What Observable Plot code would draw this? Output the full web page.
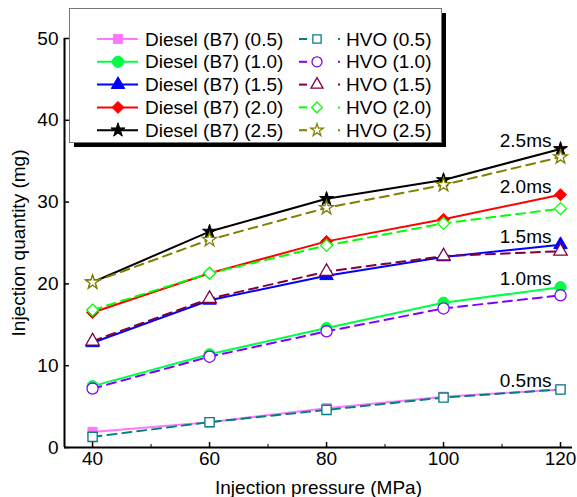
<!DOCTYPE html>
<html><head><meta charset="utf-8">
<script src="https://cdn.jsdelivr.net/npm/d3@7"></script>
<script src="https://cdn.jsdelivr.net/npm/@observablehq/plot@0.6"></script>
<style>
body{margin:0;background:#fff;font-family:"Liberation Sans",Arial,sans-serif;color:#000;}
#wrap{position:relative;width:577px;height:497px;}
#legend{position:absolute;left:69px;top:8px;}
</style></head><body><div id="wrap"></div>
<script>
// ---- data ----
const pressures = [40, 60, 80, 100, 120];
const minorTicks = [50, 70, 90, 110];
const yTicks = [0, 10, 20, 30, 40, 50];
const durations = ["0.5", "1.0", "1.5", "2.0", "2.5"];
const diesel05 = [1.9, 3.1, 4.8, 6.2, 7.1];
const diesel10 = [7.5, 11.4, 14.6, 17.7, 19.6];
const diesel15 = [12.8, 18.0, 21.0, 23.3, 24.8];
const diesel20 = [16.5, 21.3, 25.2, 27.9, 30.9];
const diesel25 = [20.2, 26.4, 30.4, 32.7, 36.5];
const hvo05 = [1.3, 3.1, 4.6, 6.1, 7.1];
const hvo10 = [7.2, 11.1, 14.2, 17.0, 18.6];
const hvo15 = [13.0, 18.2, 21.5, 23.4, 24.0];
const hvo20 = [16.8, 21.3, 24.7, 27.4, 29.2];
const hvo25 = [20.2, 25.4, 29.3, 32.1, 35.5];
const dieselColors = ["#FF77FF", "#00FF44", "#0000FF", "#FF0000", "#000000"];
const hvoColors = ["#008080", "#8000FF", "#800040", "#00FF00", "#808000"];
const symbols = ["square", "circle", "triangle", "diamond2", "star"];
const d3Symbols = [d3.symbolSquare, d3.symbolCircle, d3.symbolTriangle, d3.symbolDiamond2, d3.symbolStar];
const radii = [5.2, 5.6, 5.0, 5.4, 4.4];

const dieselValues = [diesel05, diesel10, diesel15, diesel20, diesel25];
const hvoValues = [hvo05, hvo10, hvo15, hvo20, hvo25];

function rows(fuel, valuesList, colors) {
  const out = [];
  valuesList.forEach((vals, i) => {
    vals.forEach((v, j) => out.push({fuel, dur: durations[i], idx: i, x: pressures[j], y: v, color: colors[i]}));
  });
  return out;
}
const dieselRows = rows("Diesel (B7)", dieselValues, dieselColors);
const hvoRows = rows("HVO", hvoValues, hvoColors);
const endLabels = durations.map((d, i) => ({
  x: pressures[pressures.length - 1],
  y: Math.max(dieselValues[i][4], hvoValues[i][4]),
  text: d + "ms"
}));

const marks = [];
marks.push(Plot.line(dieselRows, {x: "x", y: "y", z: "dur", stroke: "color", strokeWidth: 2}));
durations.forEach((d, i) => {
  marks.push(Plot.dot(dieselRows.filter(r => r.idx === i), {x: "x", y: "y", symbol: symbols[i], r: radii[i], fill: dieselColors[i], stroke: dieselColors[i], strokeWidth: 1}));
});
marks.push(Plot.line(hvoRows, {x: "x", y: "y", z: "dur", stroke: "color", strokeWidth: 2, strokeDasharray: "9,6"}));
durations.forEach((d, i) => {
  marks.push(Plot.dot(hvoRows.filter(r => r.idx === i), {x: "x", y: "y", symbol: symbols[i], r: radii[i], fill: "white", stroke: hvoColors[i], strokeWidth: 1.3}));
});
marks.push(Plot.text(endLabels, {x: "x", y: "y", text: "text", textAnchor: "end", lineAnchor: "bottom", dx: -9, dy: -2, fontSize: 19, fill: "black"}));
marks.push(Plot.ruleY([0], {stroke: "black", strokeWidth: 2}));
marks.push(Plot.ruleX([35.2], {stroke: "black", strokeWidth: 2}));
marks.push(Plot.axisX({ticks: pressures, tickSize: -5, tickPadding: 9, strokeWidth: 1.5, fontSize: 19,
  label: "Injection pressure (MPa)", labelAnchor: "center", labelOffset: 46, labelArrow: "none"}));
marks.push(Plot.axisX({ticks: minorTicks, tickSize: -3, tickFormat: () => "", label: null, strokeWidth: 1}));
marks.push(Plot.axisY({ticks: yTicks, tickSize: -5, tickPadding: 11, strokeWidth: 1.5, fontSize: 19,
  label: "Injection quantity (mg)", labelAnchor: "center", labelOffset: 53, labelArrow: "none"}));

const chart = Plot.plot({
  width: 577, height: 497,
  marginLeft: 64, marginRight: 5, marginTop: 38, marginBottom: 50,
  x: {domain: [35.2, 122.05]},
  y: {domain: [0, 50]},
  color: {type: "identity"},
  style: {fontFamily: "'Liberation Sans', Arial, sans-serif", fontSize: "19px", color: "black", background: "white", overflow: "visible"},
  marks
});
chart.style.display = "block";
const wrap = document.getElementById("wrap");
wrap.appendChild(chart);

// ---- legend overlay ----
const W = 372, H = 134;
const leg = d3.select(wrap).append("svg").attr("id", "legend").attr("width", W + 8).attr("height", H + 8)
  .style("font-family", "'Liberation Sans', Arial, sans-serif");
leg.append("rect").attr("x", 5).attr("y", 5).attr("width", W).attr("height", H).attr("fill", "black");
leg.append("rect").attr("x", 0.5).attr("y", 0.5).attr("width", W).attr("height", H).attr("fill", "white").attr("stroke", "#777");
durations.forEach((d, i) => {
  const cy = 31 + i * 22.8;
  const size = Math.PI * radii[i] * radii[i];
  const g = leg.append("g");
  g.append("line").attr("x1", 28).attr("x2", 69).attr("y1", cy).attr("y2", cy).attr("stroke", dieselColors[i]).attr("stroke-width", 2);
  g.append("path").attr("d", d3.symbol(d3Symbols[i], size)()).attr("transform", `translate(49,${cy})`)
    .attr("fill", dieselColors[i]).attr("stroke", dieselColors[i]);
  g.append("text").attr("x", 76).attr("y", cy).attr("dy", "0.35em").attr("font-size", 19).text(`Diesel (B7) (${d})`);
  g.append("line").attr("x1", 230).attr("x2", 238).attr("y1", cy).attr("y2", cy).attr("stroke", hvoColors[i]).attr("stroke-width", 2);
  g.append("path").attr("d", d3.symbol(d3Symbols[i], size * 0.8)()).attr("transform", `translate(248,${cy})`)
    .attr("fill", "white").attr("stroke", hvoColors[i]).attr("stroke-width", 1.3);
  g.append("line").attr("x1", 269).attr("x2", 271).attr("y1", cy).attr("y2", cy).attr("stroke", hvoColors[i]).attr("stroke-width", 2);
  g.append("text").attr("x", 277).attr("y", cy).attr("dy", "0.35em").attr("font-size", 19).text(`HVO (${d})`);
});
</script>
</body></html>
